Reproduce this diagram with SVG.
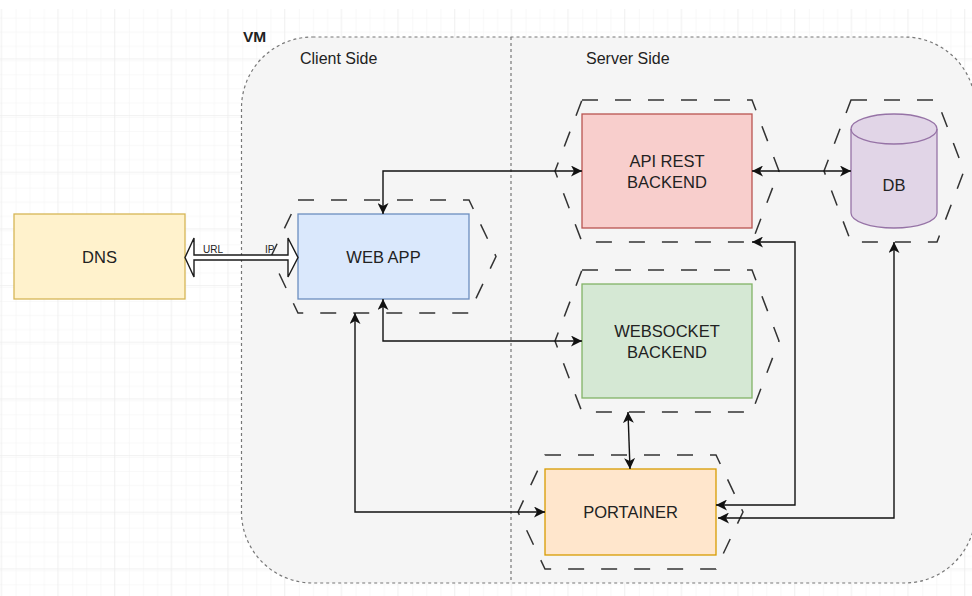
<svg xmlns="http://www.w3.org/2000/svg" width="972" height="596" viewBox="0 0 972 596">
  <defs>
    <pattern id="minor" x="0.67" y="1.7" width="14.167" height="14.167" patternUnits="userSpaceOnUse">
      <path d="M0,0 H14.167 M0,0 V14.167" fill="none" stroke="#f2f2f2" stroke-width="1"/>
    </pattern>
    <pattern id="major" x="0.67" y="1.7" width="56.667" height="56.667" patternUnits="userSpaceOnUse">
      <rect width="56.667" height="56.667" fill="url(#minor)"/>
      <path d="M0,0 H56.667 M0,0 V56.667" fill="none" stroke="#e8e8e8" stroke-width="1"/>
    </pattern>
    <marker id="arr" viewBox="0 0 11 11" refX="11" refY="5.5" markerWidth="11" markerHeight="11" markerUnits="userSpaceOnUse" orient="auto-start-reverse">
      <path d="M0,0 L11,5.5 L0,11 L3,5.5 Z" fill="#111"/>
    </marker>
  </defs>
  <style>
    .lbl { font-family: "Liberation Sans", Arial, sans-serif; fill: #222; }
    .box { font-size: 16.5px; text-anchor: middle; }
    .hex { fill: none; stroke: #333; stroke-width: 1.5; stroke-dasharray: 16 17; }
    .conn { fill: none; stroke: #111; stroke-width: 1.4; marker-start: url(#arr); marker-end: url(#arr); }
  </style>

  <rect x="0" y="0" width="972" height="596" fill="#ffffff"/>
  <rect x="0" y="9" width="972" height="587" fill="url(#major)"/>

  <g id="vm">
    <rect x="241.5" y="37" width="734" height="546" rx="71" ry="71" fill="#f5f5f5" stroke="#777" stroke-width="1.2" stroke-dasharray="3 3"/>
    <line x1="511" y1="37" x2="511" y2="583" stroke="#777" stroke-width="1.2" stroke-dasharray="3 3"/>
    <text class="lbl" x="243" y="42" font-size="15.5" font-weight="bold" fill="#111">VM</text>
    <text class="lbl" x="300" y="64" font-size="16">Client Side</text>
    <text class="lbl" x="586" y="64" font-size="16">Server Side</text>
  </g>

  <g id="dns">
    <rect x="14" y="214" width="171" height="85" fill="#fff2cc" stroke="#d6b656" stroke-width="1.3"/>
    <text class="lbl box" x="99.5" y="262.5">DNS</text>
  </g>

  <g id="webapp">
    <polygon class="hex" points="298,200 469,200 496,256.5 469,313 298,313 271,256.5"/>
    <rect x="298" y="214" width="171" height="85" fill="#dae8fc" stroke="#6c8ebf" stroke-width="1.3"/>
    <text class="lbl box" x="383.5" y="262.5">WEB APP</text>
  </g>

  <g id="api">
    <polygon class="hex" points="582,100 752,100 779,171 752,242 582,242 555,171"/>
    <rect x="582" y="114" width="170" height="114" fill="#f8cecc" stroke="#b85450" stroke-width="1.3"/>
    <text class="lbl box" x="667" y="166.5">API REST</text>
    <text class="lbl box" x="667" y="187.5">BACKEND</text>
  </g>

  <g id="db">
    <polygon class="hex" points="851,100 937,100 964,171 937,242 851,242 824,171"/>
    <path d="M851,129 A43,15 0 0 1 937,129 V213 A43,15 0 0 1 851,213 Z" fill="#e1d5e7" stroke="#9673a6" stroke-width="1.3"/>
    <path d="M851,129 A43,15 0 0 0 937,129" fill="none" stroke="#9673a6" stroke-width="1.3"/>
    <text class="lbl box" x="894" y="190.5">DB</text>
  </g>

  <g id="websocket">
    <polygon class="hex" points="582,270 752,270 779,341 752,412 582,412 555,341"/>
    <rect x="582" y="284" width="170" height="114" fill="#d5e8d4" stroke="#82b366" stroke-width="1.3"/>
    <text class="lbl box" x="667" y="336.5">WEBSOCKET</text>
    <text class="lbl box" x="667" y="357.5">BACKEND</text>
  </g>

  <g id="portainer">
    <polygon class="hex" points="545,455 716,455 743,512 716,569 545,569 518,512"/>
    <rect x="545" y="469" width="171" height="86" fill="#ffe6cc" stroke="#d79b00" stroke-width="1.3"/>
    <text class="lbl box" x="630.5" y="518">PORTAINER</text>
  </g>

  <g id="connectors">
    <polygon points="185,257.5 194,238 194,255 288,255 288,238 298,257.5 288,277 288,260 194,260 194,277" fill="#ffffff" stroke="#1a1a1a" stroke-width="1.4" stroke-linejoin="miter"/>
    <text class="lbl" x="203" y="253" font-size="10" fill="#333">URL</text>
    <text class="lbl" x="265" y="253" font-size="10" fill="#333">IP</text>
    <path class="conn" d="M383,214 V171 H582"/>
    <path class="conn" d="M383,299 V341 H582"/>
    <path class="conn" d="M355,313 V512 H545"/>
    <path class="conn" d="M752,171 H851"/>
    <path class="conn" d="M628,412 L630,469"/>
    <path class="conn" d="M752,242 H795 V505 H716"/>
    <path class="conn" d="M894,242 V518 H718"/>
  </g>
</svg>
